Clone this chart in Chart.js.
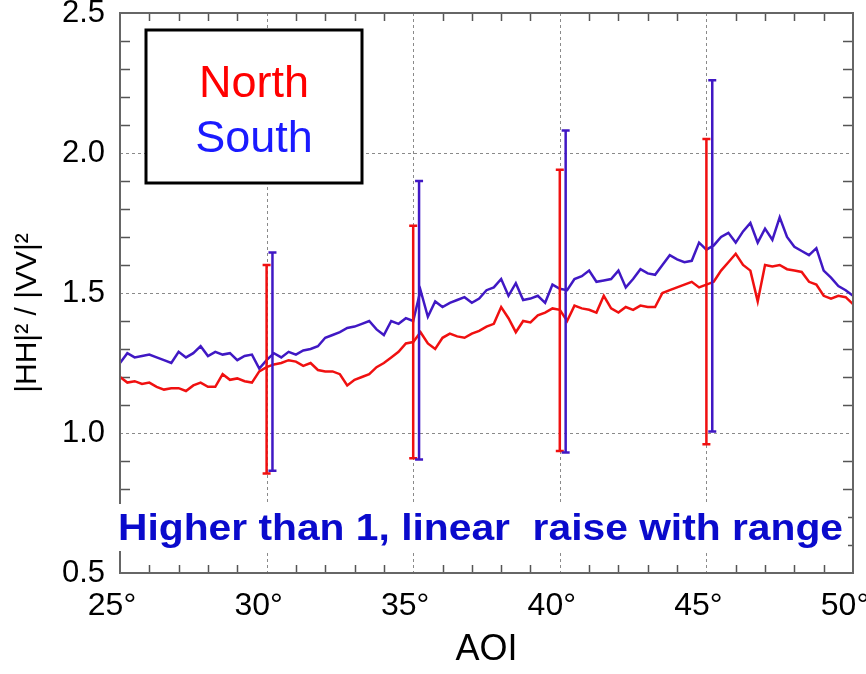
<!DOCTYPE html>
<html>
<head>
<meta charset="utf-8">
<script src="https://cdn.jsdelivr.net/npm/chart.js@4.4.1/dist/chart.umd.min.js"></script>
<style>
  html, body { margin: 0; padding: 0; background: #fff; }
  #wrap { width: 866px; height: 674px; position: relative; }
</style>
</head>
<body>
<div id="wrap"><canvas id="hhvv-chart" width="866" height="674"></canvas></div>
<script>
// angle of incidence, degrees
const aoi = [
  25, 25.25, 25.5, 25.75, 26, 26.25, 26.5, 26.75, 27, 27.25, 27.5, 27.75,
  28, 28.25, 28.5, 28.75, 29, 29.25, 29.5, 29.75, 30, 30.25, 30.5, 30.75,
  31, 31.25, 31.5, 31.75, 32, 32.25, 32.5, 32.75, 33, 33.25, 33.5, 33.75,
  34, 34.25, 34.5, 34.75, 35, 35.25, 35.5, 35.75, 36, 36.25, 36.5, 36.75,
  37, 37.25, 37.5, 37.75, 38, 38.25, 38.5, 38.75, 39, 39.25, 39.5, 39.75,
  40, 40.25, 40.5, 40.75, 41, 41.25, 41.5, 41.75, 42, 42.25, 42.5, 42.75,
  43, 43.25, 43.5, 43.75, 44, 44.25, 44.5, 44.75, 45, 45.25, 45.5, 45.75,
  46, 46.25, 46.5, 46.75, 47, 47.25, 47.5, 47.75, 48, 48.25, 48.5, 48.75,
  49, 49.25, 49.5, 49.75, 50
];

const north = [
  1.20, 1.18, 1.185, 1.175, 1.18, 1.165, 1.155, 1.16, 1.16, 1.15, 1.17, 1.18,
  1.165, 1.165, 1.21, 1.19, 1.195, 1.185, 1.18, 1.22, 1.235, 1.245, 1.25, 1.26,
  1.255, 1.24, 1.25, 1.225, 1.22, 1.22, 1.21, 1.17, 1.19, 1.20, 1.21, 1.235,
  1.25, 1.27, 1.29, 1.32, 1.325, 1.36, 1.32, 1.30, 1.34, 1.355, 1.345, 1.34,
  1.355, 1.365, 1.38, 1.39, 1.45, 1.41, 1.36, 1.40, 1.395, 1.42, 1.43, 1.445,
  1.44, 1.40, 1.455, 1.445, 1.44, 1.43, 1.49, 1.445, 1.43, 1.45, 1.44, 1.455,
  1.45, 1.45, 1.50, 1.51, 1.52, 1.53, 1.54, 1.52, 1.53, 1.54, 1.58, 1.61,
  1.64, 1.60, 1.58, 1.47, 1.60, 1.595, 1.60, 1.585, 1.58, 1.575, 1.54, 1.53,
  1.49, 1.48, 1.49, 1.485, 1.46
];

const south = [
  1.25, 1.285, 1.27, 1.275, 1.28, 1.27, 1.26, 1.25, 1.29, 1.27, 1.285, 1.31,
  1.275, 1.29, 1.28, 1.285, 1.26, 1.275, 1.28, 1.23, 1.26, 1.285, 1.27, 1.29,
  1.28, 1.295, 1.30, 1.31, 1.34, 1.35, 1.36, 1.375, 1.38, 1.39, 1.40, 1.37,
  1.35, 1.40, 1.39, 1.41, 1.40, 1.51, 1.415, 1.47, 1.45, 1.465, 1.475, 1.485,
  1.465, 1.48, 1.51, 1.52, 1.55, 1.49, 1.535, 1.475, 1.48, 1.49, 1.465, 1.53,
  1.515, 1.51, 1.55, 1.56, 1.58, 1.54, 1.545, 1.55, 1.58, 1.52, 1.55, 1.585,
  1.57, 1.565, 1.60, 1.635, 1.62, 1.61, 1.615, 1.68, 1.655, 1.67, 1.70, 1.715,
  1.68, 1.72, 1.75, 1.68, 1.73, 1.69, 1.77, 1.70, 1.665, 1.65, 1.635, 1.66,
  1.58, 1.555, 1.525, 1.51, 1.49
];

// error bars
const northErrX = [30, 35, 40, 45];
const northErrLow = [0.855, 0.91, 0.936, 0.96];
const northErrHigh = [1.60, 1.74, 1.94, 2.05];
const southErrX = [30.2, 35.2, 40.2, 45.2];
const southErrLow = [0.865, 0.905, 0.93, 1.005];
const southErrHigh = [1.645, 1.90, 2.08, 2.26];

const RED = "#f01010";
const BLUE = "#4018c4";
const FONT = "'Liberation Sans', Arial, sans-serif";

const frame = {
  id: "frame",
  beforeDatasetsDraw(chart) {
    const { ctx, chartArea: a, scales: { x, y } } = chart;
    ctx.save();
    // dotted grid at major ticks
    ctx.strokeStyle = "#8a8a8a";
    ctx.lineWidth = 1;
    ctx.setLineDash([3, 3]);
    [30, 35, 40, 45].forEach(v => {
      const px = Math.round(x.getPixelForValue(v)) + 0.5;
      ctx.beginPath(); ctx.moveTo(px, a.top); ctx.lineTo(px, a.bottom); ctx.stroke();
    });
    [1.0, 1.5, 2.0].forEach(v => {
      const py = Math.round(y.getPixelForValue(v)) + 0.5;
      ctx.beginPath(); ctx.moveTo(a.left, py); ctx.lineTo(a.right, py); ctx.stroke();
    });
    ctx.setLineDash([]);
    // minor ticks, pointing inward
    ctx.strokeStyle = "#555";
    ctx.lineWidth = 1.5;
    for (let d = 26; d < 50; d++) {
      if (d % 5 === 0) continue;
      const px = Math.round(x.getPixelForValue(d)) + 0.5;
      ctx.beginPath();
      ctx.moveTo(px, a.top); ctx.lineTo(px, a.top + 8);
      ctx.moveTo(px, a.bottom); ctx.lineTo(px, a.bottom - 8);
      ctx.stroke();
    }
    for (let k = 6; k < 25; k++) {
      if (k % 5 === 0) continue;
      const py = Math.round(y.getPixelForValue(k / 10)) + 0.5;
      ctx.beginPath();
      ctx.moveTo(a.left, py); ctx.lineTo(a.left + 10, py);
      ctx.moveTo(a.right, py); ctx.lineTo(a.right - 10, py);
      ctx.stroke();
    }
    ctx.restore();
  },
  afterDatasetsDraw(chart) {
    const { ctx, chartArea: a, scales: { x, y } } = chart;
    ctx.save();
    // error bars
    const bars = [
      [northErrX, northErrLow, northErrHigh, RED],
      [southErrX, southErrLow, southErrHigh, BLUE]
    ];
    ctx.lineWidth = 2.5;
    bars.forEach(([xs, lo, hi, col]) => {
      ctx.strokeStyle = col;
      xs.forEach((v, i) => {
        const px = x.getPixelForValue(v);
        const y0 = y.getPixelForValue(lo[i]);
        const y1 = y.getPixelForValue(hi[i]);
        ctx.beginPath();
        ctx.moveTo(px, y0); ctx.lineTo(px, y1);
        ctx.moveTo(px - 4, y0); ctx.lineTo(px + 4, y0);
        ctx.moveTo(px - 4, y1); ctx.lineTo(px + 4, y1);
        ctx.stroke();
      });
    });
    // frame border
    ctx.strokeStyle = "#666";
    ctx.lineWidth = 2;
    ctx.strokeRect(a.left, a.top, a.right - a.left, a.bottom - a.top);

    // legend box
    ctx.fillStyle = "#fff";
    ctx.fillRect(146, 30, 216, 153);
    ctx.strokeStyle = "#000";
    ctx.lineWidth = 3;
    ctx.strokeRect(146, 30, 216, 153);
    ctx.textAlign = "center";
    ctx.textBaseline = "alphabetic";
    ctx.font = "45px " + FONT;
    ctx.fillStyle = "#ff0000";
    ctx.fillText("North", 254, 97);
    ctx.fillStyle = "#1a1aff";
    ctx.fillText("South", 254, 152);

    // annotation with white backing
    ctx.fillStyle = "#fff";
    ctx.fillRect(114, 504, 734, 47);
    ctx.font = "bold 36px " + FONT;
    ctx.fillStyle = "#0a0acc";
    const note = "Higher than 1, linear  raise with range";
    const w = ctx.measureText(note).width;
    ctx.translate(118, 540);
    ctx.scale(725 / w, 1);
    ctx.textAlign = "left";
    ctx.fillText(note, 0, 0);
    ctx.setTransform(1, 0, 0, 1, 0, 0);

    // y axis title
    ctx.translate(28, 313);
    ctx.rotate(-Math.PI / 2);
    ctx.font = "30px " + FONT;
    ctx.fillStyle = "#000";
    ctx.textAlign = "center";
    ctx.textBaseline = "middle";
    ctx.fillText("|HH|\u00b2 / |VV|\u00b2", 0, 0);
    ctx.restore();
  }
};

new Chart(document.getElementById("hhvv-chart"), {
  type: "line",
  data: {
    datasets: [
      {
        label: "North",
        data: aoi.map((v, i) => ({ x: v, y: north[i] })),
        borderColor: RED,
        borderWidth: 2.5,
        pointRadius: 0,
        tension: 0
      },
      {
        label: "South",
        data: aoi.map((v, i) => ({ x: v, y: south[i] })),
        borderColor: BLUE,
        borderWidth: 2.5,
        pointRadius: 0,
        tension: 0
      }
    ]
  },
  options: {
    responsive: false,
    animation: false,
    layout: { padding: { top: 13, right: 13, left: 0, bottom: 0 } },
    plugins: { legend: { display: false }, tooltip: { enabled: false } },
    scales: {
      x: {
        type: "linear",
        min: 25,
        max: 50,
        border: { display: false },
        grid: { display: false, drawTicks: false },
        ticks: {
          stepSize: 5,
          padding: 14,
          labelOffset: -8,
          color: "#000",
          font: { family: FONT, size: 32 },
          maxRotation: 0,
          callback: v => v + "\u00b0"
        },
        title: {
          display: true,
          text: "AOI",
          color: "#000",
          font: { family: FONT, size: 36 },
          padding: { top: 0, bottom: 2 }
        },
        afterFit(scale) {
          scale.height = 101;
          scale.paddingLeft = 0;
          scale.paddingRight = 0;
        }
      },
      y: {
        min: 0.5,
        max: 2.5,
        border: { display: false },
        grid: { display: false, drawTicks: false },
        ticks: {
          stepSize: 0.5,
          padding: 15,
          color: "#000",
          font: { family: FONT, size: 31 },
          callback: v => v.toFixed(1)
        },
        afterFit(scale) {
          scale.width = 120;
          scale.paddingTop = 0;
          scale.paddingBottom = 0;
        }
      }
    }
  },
  plugins: [frame]
});
</script>
</body>
</html>
